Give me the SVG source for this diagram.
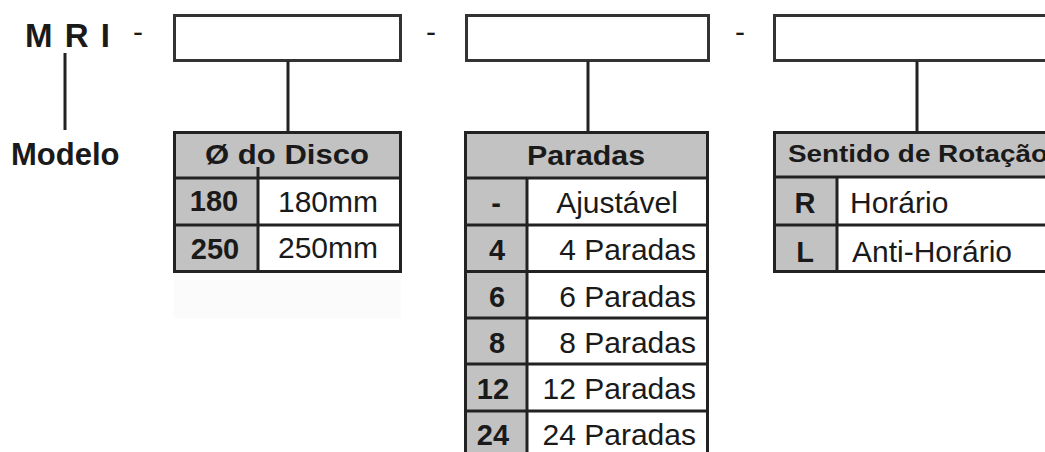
<svg xmlns="http://www.w3.org/2000/svg" width="1045" height="452" viewBox="0 0 1045 452">
<style>
.bx{fill:#fff;stroke:#333;stroke-width:3}
.tb{fill:none;stroke:#222;stroke-width:3}
.g{fill:#c2c2c2}
.w{fill:#fff}
.ln{stroke:#222;stroke-width:3;fill:none}
text{font-family:"Liberation Sans",Arial,sans-serif;fill:#1a1a1a}
.b{font-weight:bold;font-size:29px}
.r{font-size:30px}
.h{font-weight:bold;font-size:27px}
.c{text-anchor:middle}
.e{text-anchor:end}
</style>
<rect width="1045" height="452" fill="#fff"/>
<g id="title">
<text x="25" y="47" class="b" style="font-size:33px;letter-spacing:1.5px">M R I</text>
<text x="133" y="42" class="r">-</text>
<text x="426" y="42" class="r">-</text>
<text x="735" y="42" class="r">-</text>
</g>
<g id="modelo">
<text x="11" y="165" class="b" style="font-size:31px">Modelo</text>
</g>
<g id="box1"><rect class="bx" x="174.5" y="15.5" width="226" height="45"/></g>
<g id="box2"><rect class="bx" x="466.5" y="15.5" width="242" height="45"/></g>
<g id="box3"><rect class="bx" x="774.5" y="15.5" width="300" height="45"/></g>
<g id="connectors">
<line class="ln" x1="65" y1="53" x2="65" y2="130"/>
<line class="ln" x1="288" y1="61" x2="288" y2="132"/>
<line class="ln" x1="588" y1="61" x2="588" y2="132"/>
<line class="ln" x1="917" y1="61" x2="917" y2="132"/>
</g>
<g id="table-disco">
<rect x="174" y="272" width="227" height="46" fill="#fbfbfb"/>
<rect class="g" x="174.5" y="132.5" width="226" height="139"/>
<rect class="w" x="258" y="178" width="142" height="93"/>
<rect class="tb" x="174.5" y="132.5" width="226" height="139"/>
<line class="ln" x1="174" y1="178" x2="401" y2="178"/>
<line class="ln" x1="174" y1="225" x2="401" y2="225"/>
<line class="ln" x1="258" y1="167" x2="258" y2="272"/>
<text x="205" y="164" class="h" textLength="164" lengthAdjust="spacingAndGlyphs">Ø do Disco</text>
<text x="214" y="211" class="b c">180</text>
<text x="328" y="212" class="r c">180mm</text>
<text x="215" y="259" class="b c">250</text>
<text x="328" y="258" class="r c">250mm</text>
</g>
<g id="table-paradas">
<rect class="g" x="465.5" y="132.5" width="242" height="330"/>
<rect class="w" x="527" y="178" width="180" height="280"/>
<rect class="tb" x="465.5" y="132.5" width="242" height="330"/>
<line class="ln" x1="465" y1="178" x2="708" y2="178"/>
<line class="ln" x1="465" y1="225" x2="708" y2="225"/>
<line class="ln" x1="465" y1="271.5" x2="708" y2="271.5"/>
<line class="ln" x1="465" y1="318" x2="708" y2="318"/>
<line class="ln" x1="465" y1="364" x2="708" y2="364"/>
<line class="ln" x1="465" y1="411" x2="708" y2="411"/>
<line class="ln" x1="527" y1="178" x2="527" y2="452"/>
<text x="527" y="165" class="h" textLength="118" lengthAdjust="spacingAndGlyphs">Paradas</text>
<text x="496" y="213" class="b c">-</text>
<text x="617" y="213" class="r c">Ajustável</text>
<text x="497" y="260" class="b c">4</text>
<text x="696" y="260" class="r e">4 Paradas</text>
<text x="497" y="307" class="b c">6</text>
<text x="696" y="307" class="r e">6 Paradas</text>
<text x="497" y="353" class="b c">8</text>
<text x="696" y="353" class="r e">8 Paradas</text>
<text x="493" y="399" class="b c">12</text>
<text x="696" y="399" class="r e">12 Paradas</text>
<text x="493" y="445" class="b c">24</text>
<text x="696" y="445" class="r e">24 Paradas</text>
</g>
<g id="table-rotacao">
<rect class="g" x="774.5" y="132.5" width="300" height="139"/>
<rect class="w" x="837" y="177" width="238" height="94"/>
<rect class="tb" x="774.5" y="132.5" width="300" height="139"/>
<line class="ln" x1="774" y1="177" x2="1045" y2="177"/>
<line class="ln" x1="774" y1="225" x2="1045" y2="225"/>
<line class="ln" x1="837" y1="177" x2="837" y2="272"/>
<text x="788" y="162" class="h" style="font-size:24px" textLength="260" lengthAdjust="spacingAndGlyphs">Sentido de Rotação</text>
<text x="805" y="213" class="b c">R</text>
<text x="850" y="213" class="r">Horário</text>
<text x="805" y="262" class="b c">L</text>
<text x="852" y="262" class="r">Anti-Horário</text>
</g>
</svg>
